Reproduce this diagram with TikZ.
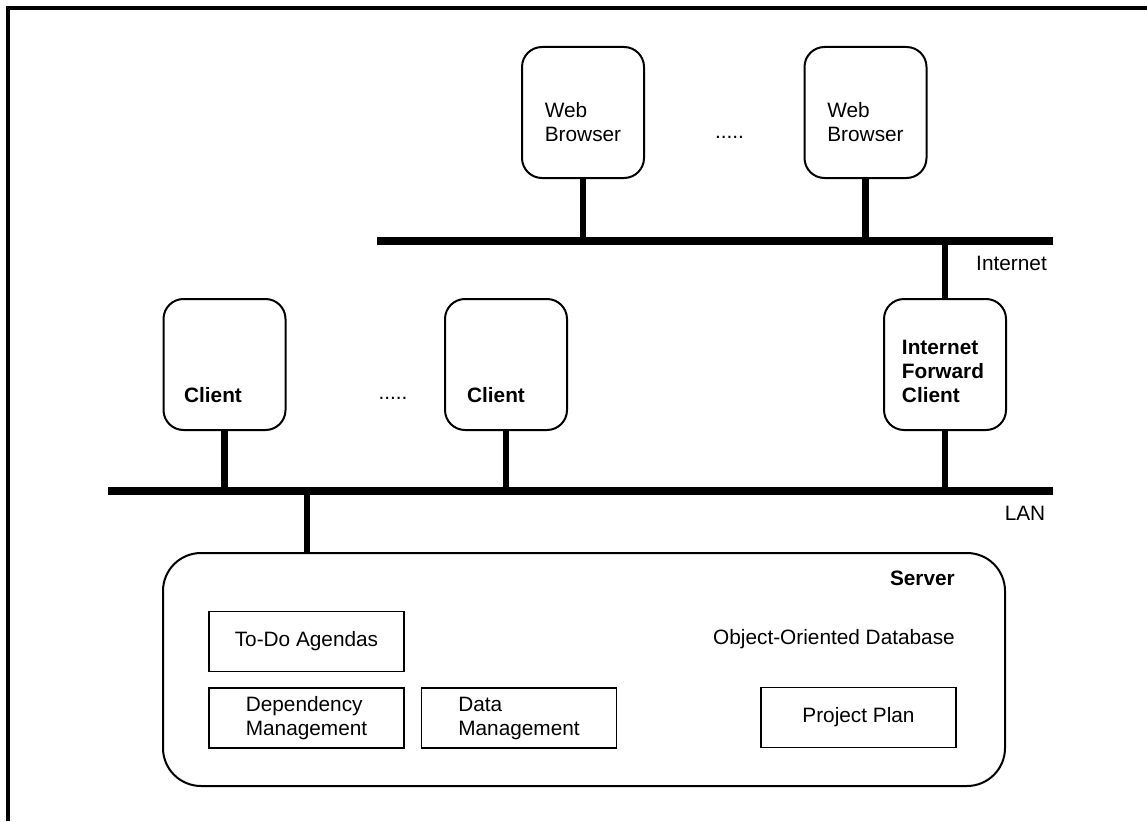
\documentclass[tikz,border=0pt]{standalone}
\usepackage{fontspec}
\setmainfont{Liberation Sans}
\usetikzlibrary{positioning}

\begin{document}
\begin{tikzpicture}[x=1pt,y=-1pt,
    every node/.style={font=\fontsize{20.8}{24}\selectfont, inner sep=0pt},
    host/.style={draw, line width=2pt, rounded corners=20pt, minimum width=122pt, minimum height=131pt},
    module/.style={draw, line width=1.6pt, minimum width=195pt, minimum height=60pt, align=left},
    bus/.style={line width=8.5pt},
    link/.style={line width=6.5pt}]
  \useasboundingbox (0,0) rectangle (1147,821);
  % frame
  \draw[line width=4pt] (8,821) -- (8,8) -- (1147,8);

  % Internet side
  \node[host] (browserA) at (583,112.5) {};
  \node[align=left] (browserA-txt) at (583,122) {Web\\Browser};
  \node[host] (browserB) at (865.5,112.5) {};
  \node[align=left] (browserB-txt) at (865.5,122) {Web\\Browser};
  \node (dotsA) at (729.5,137) {.....};
  \coordinate (inet-l) at (377,241);
  \coordinate (inet-r) at (1053,241);
  \draw[bus] (inet-l) -- (inet-r);
  \node (inet) at (1011.5,263) {Internet};
  \draw[link] (browserA.south) -- (browserA.south |- inet-l);
  \draw[link] (browserB.south) -- (browserB.south |- inet-l);

  % LAN side
  \node[host] (clientA) at (224.5,364.5) {};
  \node[font=\fontsize{20.8}{24}\selectfont\bfseries] (clientA-txt) at (213,395) {Client};
  \node[host] (clientB) at (506,364.5) {};
  \node[font=\fontsize{20.8}{24}\selectfont\bfseries] (clientB-txt) at (496,395) {Client};
  \node (dotsB) at (393,398) {.....};
  \node[host] (fwd) at (945,364.5) {};
  \node[align=left, font=\fontsize{20.8}{24}\selectfont\bfseries] (fwd-txt) at (943,371) {Internet\\Forward\\Client};
  \draw[link] (fwd.north) -- (fwd.north |- inet-l);

  \coordinate (lan-l) at (108,491);
  \coordinate (lan-r) at (1053,491);
  \draw[bus] (lan-l) -- (lan-r);
  \node (lan) at (1025,513) {LAN};
  \draw[link] (clientA.south) -- (clientA.south |- lan-l);
  \draw[link] (clientB.south) -- (clientB.south |- lan-l);
  \draw[link] (fwd.south) -- (fwd.south |- lan-l);

  % Server
  \node[draw, line width=2pt, rounded corners=38pt, minimum width=842pt, minimum height=233pt] (server) at (584,669.5) {};
  \coordinate (srv-tap) at (307,491);
  \draw[link] (srv-tap) -- (srv-tap |- server.north);
  \node[anchor=east, font=\fontsize{20.8}{24}\selectfont\bfseries] (server-txt) at (955,578) {Server};
  \node[anchor=east] (oodb) at (955,639) {Object-Oriented Database};
  \node[module] (todo) at (306.5,641.5) {To-Do Agendas};
  \node[module] (dep) at (306.5,718) {Dependency\\Management};
  \node[module] (datam) at (519,718) {Data\\Management};
  \node[module] (plan) at (858.5,717.5) {Project Plan};
\end{tikzpicture}
\end{document}
